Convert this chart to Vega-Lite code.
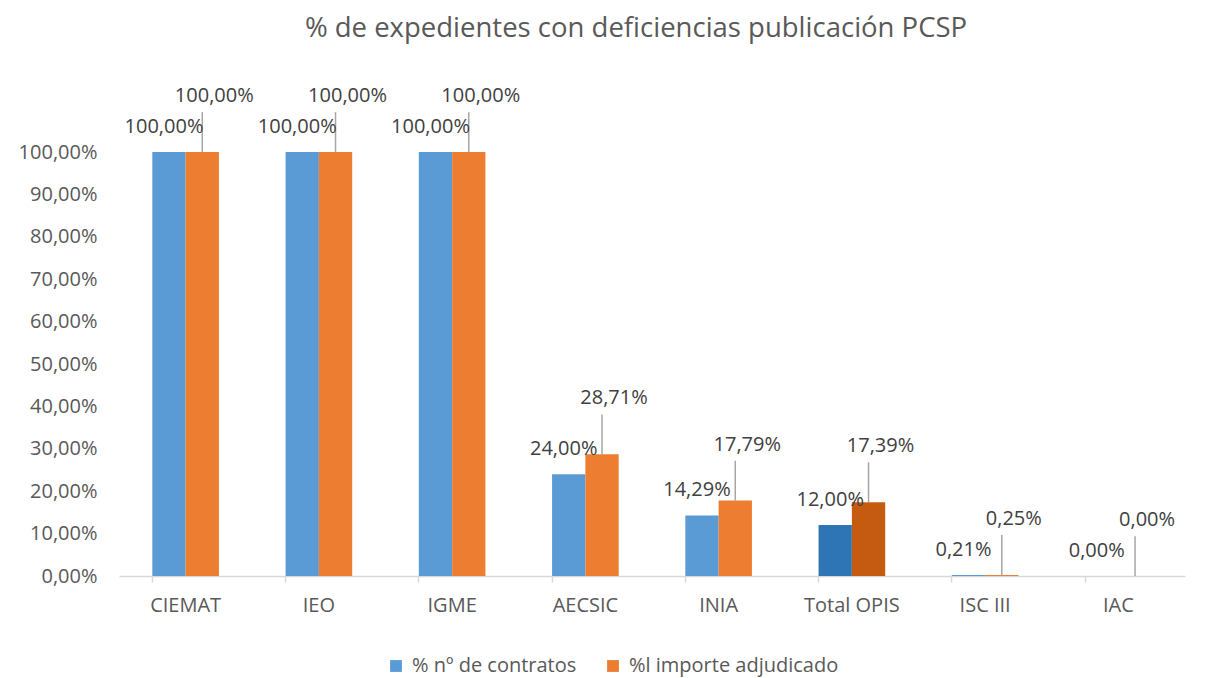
{
  "$schema": "https://vega.github.io/schema/vega-lite/v6.json",
  "autosize": {"type": "none"},
  "width": 1066,
  "height": 424,
  "padding": {"left": 119, "top": 152, "right": 24, "bottom": 102},
  "background": "white",
  "config": {
    "locale": {"number": {"decimal": ",", "thousands": ".", "grouping": [3], "currency": ["", " €"]}},
    "font": "Open Sans",
    "view": {"stroke": null}
  },
  "title": {
    "text": "% de expedientes con deficiencias publicación PCSP",
    "fontSize": 27.5,
    "fontWeight": "normal",
    "color": "#595959",
    "font": "Open Sans",
    "anchor": "middle",
    "frame": "group",
    "dx": -16,
    "offset": 44
  },
  "data": {
    "values": [
      {"cat": "CIEMAT", "serie": "% nº de contratos", "value": 1.0},
      {"cat": "CIEMAT", "serie": "%l importe adjudicado", "value": 1.0},
      {"cat": "IEO", "serie": "% nº de contratos", "value": 1.0},
      {"cat": "IEO", "serie": "%l importe adjudicado", "value": 1.0},
      {"cat": "IGME", "serie": "% nº de contratos", "value": 1.0},
      {"cat": "IGME", "serie": "%l importe adjudicado", "value": 1.0},
      {"cat": "AECSIC", "serie": "% nº de contratos", "value": 0.24},
      {"cat": "AECSIC", "serie": "%l importe adjudicado", "value": 0.2871},
      {"cat": "INIA", "serie": "% nº de contratos", "value": 0.1429},
      {"cat": "INIA", "serie": "%l importe adjudicado", "value": 0.1779},
      {"cat": "Total OPIS", "serie": "% nº de contratos", "value": 0.12},
      {"cat": "Total OPIS", "serie": "%l importe adjudicado", "value": 0.1739},
      {"cat": "ISC III", "serie": "% nº de contratos", "value": 0.0021},
      {"cat": "ISC III", "serie": "%l importe adjudicado", "value": 0.0025},
      {"cat": "IAC", "serie": "% nº de contratos", "value": 0.0},
      {"cat": "IAC", "serie": "%l importe adjudicado", "value": 0.0}
    ]
  },
  "transform": [
    {"calculate": "datum.cat === 'Total OPIS' ? 'T ' + datum.serie : datum.serie", "as": "key"},
    {"calculate": "datum.value + 0.094", "as": "lineTop"}
  ],
  "encoding": {
    "x": {
      "field": "cat",
      "type": "nominal",
      "sort": ["CIEMAT", "IEO", "IGME", "AECSIC", "INIA", "Total OPIS", "ISC III", "IAC"],
      "scale": {"paddingInner": 0.5, "paddingOuter": 0.25},
      "axis": {
        "title": null,
        "labelAngle": 0,
        "labelFontSize": 20,
        "labelColor": "#595959",
        "labelFont": "Open Sans",
        "domainColor": "#D9D9D9",
        "domainWidth": 1.5,
        "tickColor": "#D9D9D9",
        "tickWidth": 1.5,
        "tickSize": 6,
        "bandPosition": 0,
        "labelPadding": 13
      }
    },
    "xOffset": {
      "field": "serie",
      "type": "nominal",
      "sort": ["% nº de contratos", "%l importe adjudicado"],
      "scale": {"paddingInner": 0, "paddingOuter": 0}
    }
  },
  "layer": [
    {
      "mark": {"type": "bar"},
      "encoding": {
        "y": {
          "field": "value",
          "type": "quantitative",
          "scale": {"domain": [0, 1]},
          "axis": {
            "title": null,
            "format": ".2%",
            "values": [0, 0.1, 0.2, 0.3, 0.4, 0.5, 0.6, 0.7, 0.8, 0.9, 1.0],
            "grid": false,
            "ticks": false,
            "domain": false,
            "labelFontSize": 20,
            "labelColor": "#595959",
            "labelFont": "Open Sans",
            "labelPadding": 22
          }
        },
        "color": {
          "field": "key",
          "type": "nominal",
          "scale": {
            "domain": ["% nº de contratos", "%l importe adjudicado", "T % nº de contratos", "T %l importe adjudicado"],
            "range": ["#5B9BD5", "#ED7D31", "#2E75B6", "#C55A11"]
          },
          "legend": {
            "title": null,
            "values": ["% nº de contratos", "%l importe adjudicado"],
            "orient": "none",
            "legendX": 267,
            "legendY": 504,
            "direction": "horizontal",
            "symbolType": "square",
            "symbolSize": 140,
            "symbolStrokeWidth": 0,
            "labelFontSize": 20,
            "labelColor": "#595959",
            "labelFont": "Open Sans",
            "columnPadding": 26,
            "labelOffset": 6,
            "labelLimit": 400
          }
        }
      }
    },
    {
      "transform": [{"filter": "datum.serie === '%l importe adjudicado'"}],
      "mark": {"type": "rule", "color": "#A6A6A6", "strokeWidth": 1.5, "xOffset": 12},
      "encoding": {
        "y": {"field": "value", "type": "quantitative"},
        "y2": {"field": "lineTop"}
      }
    },
    {
      "transform": [{"filter": "datum.serie === '% nº de contratos'"}],
      "mark": {"type": "text", "fontSize": 20, "color": "#404040", "font": "Open Sans", "dy": -25, "dx": -5, "baseline": "middle"},
      "encoding": {
        "y": {"field": "value", "type": "quantitative"},
        "text": {"field": "value", "type": "quantitative", "format": ".2%"}
      }
    },
    {
      "transform": [{"filter": "datum.serie === '%l importe adjudicado'"}],
      "mark": {"type": "text", "fontSize": 20, "color": "#404040", "font": "Open Sans", "dy": -56, "dx": 12, "baseline": "middle"},
      "encoding": {
        "y": {"field": "value", "type": "quantitative"},
        "text": {"field": "value", "type": "quantitative", "format": ".2%"}
      }
    }
  ]
}
